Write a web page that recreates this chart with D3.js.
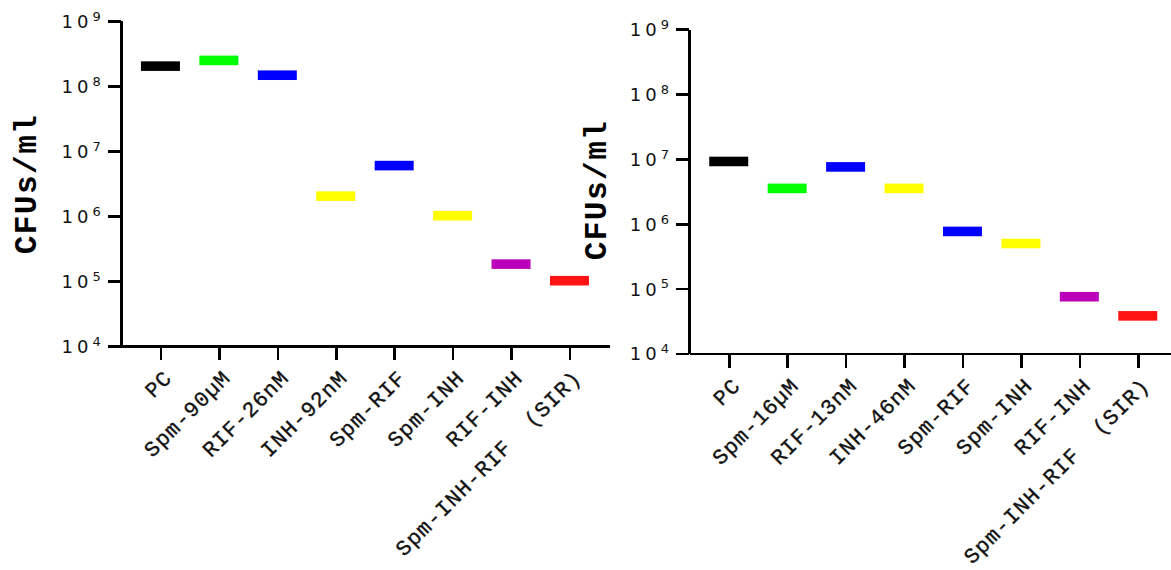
<!DOCTYPE html>
<html>
<head>
<meta charset="utf-8">
<script src="https://cdn.jsdelivr.net/npm/d3@7"></script>
<style>
  body { margin: 0; background: #fff; }
  svg { display: block; }
  .axis path, .axis line { stroke: #000; stroke-width: 2.6px; shape-rendering: crispEdges; }
  .yTick { font-family: "DejaVu Sans", sans-serif; font-size: 18px; letter-spacing: 4px; fill: #111; }
  .xLabel { font-family: "Liberation Mono", monospace; font-size: 21.5px; letter-spacing: 1.1px; fill: #111; stroke: #111; stroke-width: 0.35px; }
  .yTitle { font-family: "Liberation Mono", monospace; font-size: 31px; font-weight: bold; letter-spacing: 1.5px; fill: #000; }
</style>
</head>
<body>
<div id="chart"></div>
<script>
var categoriesLeft = ["PC", "Spm-90\u00b5M", "RIF-26nM", "INH-92nM", "Spm-RIF", "Spm-INH", "RIF-INH", "Spm-INH-RIF  (SIR)"];
var valuesLeft = [2.0e8, 2.45e8, 1.45e8, 2.0e6, 5.9e6, 1.0e6, 1.8e5, 1.0e5];

var categoriesRight = ["PC", "Spm-16\u00b5M", "RIF-13nM", "INH-46nM", "Spm-RIF", "Spm-INH", "RIF-INH", "Spm-INH-RIF  (SIR)"];
var valuesRight = [9.1e6, 3.5e6, 7.5e6, 3.5e6, 7.6e5, 4.95e5, 7.5e4, 3.8e4];

var barColors = ["#000000", "#00ff00", "#0000ff", "#ffff00", "#0000ff", "#ffff00", "#bb00bb", "#ff1414"];
var tickValues = [1e4, 1e5, 1e6, 1e7, 1e8, 1e9];
var yTitle = "CFUs/ml";

var svg = d3.select('#chart').append('svg')
    .attr('width', 1171)
    .attr('height', 570);

function drawPanel(options) {
    var g = svg.append('g')
        .attr('transform', 'translate(' + options.left + ',' + options.top + ')');

    var yScale = d3.scaleLog().domain([1e4, 1e9]).range([options.height, 0]);
    var xScale = d3.scalePoint().domain(options.categories).range([0, options.width]).padding(0.68);

    // y axis with 10^n labels
    var yAxis = g.append('g').attr('class', 'axis')
        .call(d3.axisLeft(yScale).tickValues(tickValues).tickSize(13).tickSizeOuter(0).tickFormat(function () { return ''; }));
    yAxis.selectAll('.tick text').remove();
    yAxis.selectAll('.tick').each(function (d) {
        var t = d3.select(this).append('text')
            .attr('class', 'yTick')
            .attr('x', -16)
            .attr('dy', '0.36em')
            .attr('text-anchor', 'end');
        t.append('tspan').text('10');
        t.append('tspan').attr('dy', '-0.55em').attr('font-size', '13px').text(Math.round(Math.log10(d)));
    });
    yAxis.select('.domain').attr('fill', 'none');

    // x axis
    var xAxis = g.append('g').attr('class', 'axis')
        .attr('transform', 'translate(0,' + options.height + ')')
        .call(d3.axisBottom(xScale).tickSize(14).tickSizeOuter(0).tickFormat(function () { return ''; }));
    xAxis.selectAll('.tick text').remove();
    xAxis.select('.domain').attr('fill', 'none');
    xAxis.selectAll('.tick').append('text')
        .attr('class', 'xLabel')
        .attr('text-anchor', 'end')
        .attr('transform', 'translate(7,28) rotate(-45)')
        .attr('dy', '0.35em')
        .style('white-space', 'pre')
        .text(function (d) { return d; });

    // bars (short horizontal marks)
    g.selectAll('.mark').data(options.values).enter().append('rect')
        .attr('class', 'mark')
        .attr('x', function (d, i) { return xScale(options.categories[i]) - 19.5; })
        .attr('y', function (d) { return yScale(d) - 4.8; })
        .attr('width', 39)
        .attr('height', 9.6)
        .attr('fill', function (d, i) { return barColors[i]; });

    svg.append('text')
        .attr('class', 'yTitle')
        .attr('text-anchor', 'middle')
        .attr('transform', 'translate(' + options.titleX + ',' + options.titleY + ') rotate(-90)')
        .attr('dy', '0.35em')
        .text(yTitle);
}

drawPanel({ left: 120.7, top: 20.7, width: 488.5, height: 325, categories: categoriesLeft, values: valuesLeft, titleX: 25, titleY: 184 });
drawPanel({ left: 689, top: 29, width: 488.5, height: 324.5, categories: categoriesRight, values: valuesRight, titleX: 595, titleY: 190 });
</script>
</body>
</html>
